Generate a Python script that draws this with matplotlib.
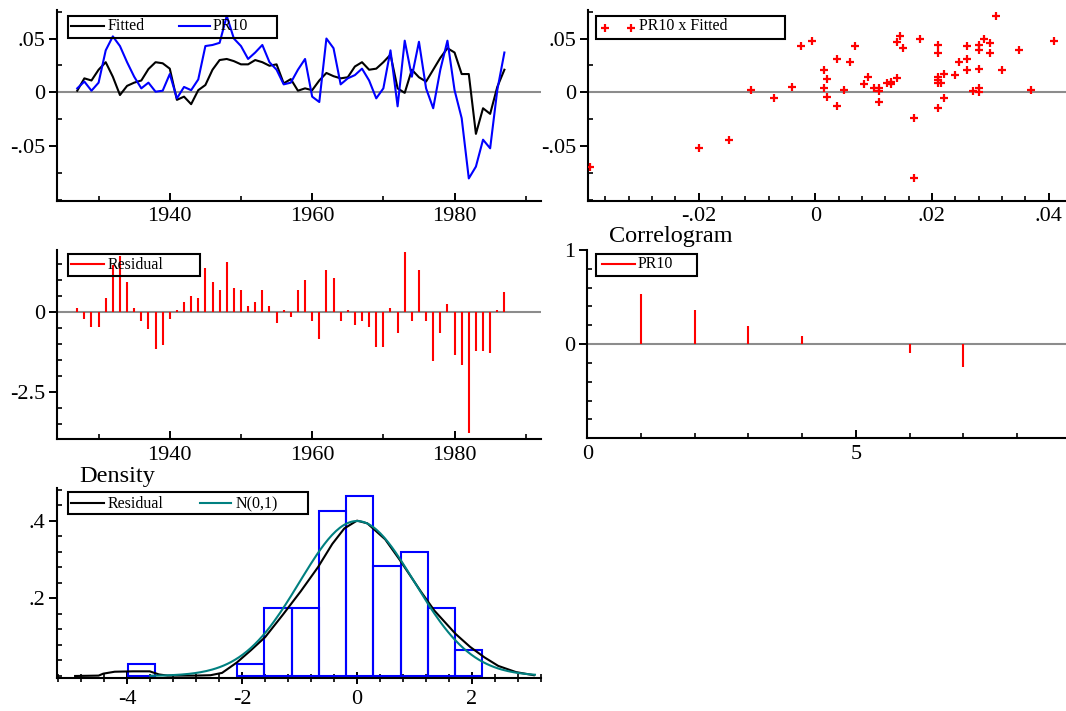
import numpy as np
import matplotlib
matplotlib.use('Agg')
import matplotlib.pyplot as plt
from matplotlib.patches import Rectangle
from matplotlib.lines import Line2D
from matplotlib.ticker import FixedLocator, FixedFormatter, MultipleLocator

# ---------------- data ----------------
years = np.arange(1927, 1988)

fitted = [0.0015, 0.013, 0.011, 0.021, 0.028, 0.0145, -0.0025, 0.006, 0.009, 0.011,
          0.0216, 0.028, 0.027, 0.022, -0.007, -0.004, -0.011, 0.002, 0.0068, 0.021,
          0.030, 0.031, 0.029, 0.026, 0.026, 0.030, 0.028, 0.0247, 0.026, 0.0083,
          0.0123, 0.0015, 0.0037, 0.002, 0.011, 0.018, 0.015, 0.013, 0.014, 0.024,
          0.028, 0.021, 0.022, 0.028, 0.035, 0.0037, -0.0005, 0.021, 0.014, 0.010,
          0.021, 0.032, 0.041, 0.037, 0.017, 0.017, -0.0386, -0.0148, -0.020, 0.005,
          0.021]

pr10 = [0.0037, 0.010, 0.0015, 0.009, 0.039, 0.052, 0.043, 0.028, 0.0145, 0.0037,
        0.009, 0.0006, 0.0015, 0.017, -0.0056, 0.005, 0.002, 0.012, 0.043, 0.044,
        0.046, 0.071, 0.050, 0.043, 0.031, 0.037, 0.044, 0.028, 0.021, 0.0074,
        0.009, 0.021, 0.031, -0.004, -0.009, 0.050, 0.041, 0.0074, 0.013, 0.016,
        0.022, 0.011, -0.0056, 0.0037, 0.039, -0.013, 0.048, 0.0145, 0.047, 0.0037,
        -0.0148, 0.021, 0.048, 0.002, -0.024, -0.080, -0.069, -0.044, -0.052, 0.002,
        0.037]

residual = [0.125, -0.24, -0.47, -0.47, 0.44, 1.46, 1.75, 0.94, 0.125, -0.28,
            -0.54, -1.17, -1.04, -0.24, 0.05, 0.31, 0.5, 0.44, 1.375, 0.94,
            0.68, 1.56, 0.75, 0.68, 0.18, 0.31, 0.68, 0.18, -0.36, 0.05,
            -0.18, 0.68, 0.99, -0.28, -0.85, 1.30, 1.06, -0.29, 0.05, -0.42,
            -0.29, -0.47, -1.11, -1.11, 0.125, -0.66, 1.875, -0.29, 1.30, -0.29,
            -1.54, -0.68, 0.24, -1.35, -1.67, -3.78, -1.22, -1.23, -1.28, 0.05,
            0.625]

acf_lags = [1, 2, 3, 4, 5, 6, 7]
acf_vals = [0.53, 0.36, 0.195, 0.09, 0.005, -0.09, -0.24]

hist_edges = [-3.99, -3.515, -3.04, -2.565, -2.09, -1.615, -1.14, -0.665, -0.19,
              0.285, 0.76, 1.235, 1.71, 2.185]
hist_dens = [0.032, 0.0, 0.0, 0.0, 0.032, 0.175, 0.175, 0.426, 0.463, 0.282, 0.318,
             0.175, 0.067]

dens_x = [-4.91, -4.5, -4.42, -4.22, -3.9, -3.61, -3.45, -3.3, -2.8, -2.55, -2.35,
          -2.09, -1.85, -1.6, -1.29, -0.98, -0.68, -0.43, -0.22, 0.0, 0.18, 0.49,
          0.74, 1.11, 1.35, 1.72, 1.97, 2.22, 2.46, 2.77, 3.08]
dens_y = [0.0, 0.001, 0.006, 0.011, 0.012, 0.012, 0.004, 0.001, 0.001, 0.002, 0.008,
          0.035, 0.066, 0.100, 0.158, 0.218, 0.280, 0.340, 0.380, 0.400, 0.393, 0.352,
          0.300, 0.218, 0.168, 0.108, 0.075, 0.048, 0.026, 0.010, 0.002]

norm_range = [-3.6, 3.1]

ts_xticks = [1940, 1960, 1980]
ts_xlabels = ['1940', '1960', '1980']
ts_yticks = [-0.05, 0, 0.05]
ts_ylabels = ['-.05', '0', '.05']
sc_xticks = [-0.02, 0, 0.02, 0.04]
sc_xlabels = ['-.02', '0', '.02', '.04']
res_yticks = [-2.5, 0]
res_ylabels = ['-2.5', '0']
acf_xticks = [0, 5]
acf_xlabels = ['0', '5']
acf_yticks = [0, 1]
acf_ylabels = ['0', '1']
hist_xticks = [-4, -2, 0, 2]
hist_xlabels = ['-4', '-2', '0', '2']
hist_yticks = [0.2, 0.4]
hist_ylabels = ['.2', '.4']

# ---------------- figure ----------------
plt.rcParams['font.family'] = ['Liberation Serif', 'DejaVu Serif']
W, H = 1066, 711
fig = plt.figure(figsize=(W / 100, H / 100), dpi=100)

BLUE = '#0000ff'
RED = '#ff0000'
TEAL = '#008080'
GREY = '#8c8c8c'
LW = 1.5


def add_ax(l, t, r, b):
    return fig.add_axes([l / W, 1 - b / H, (r - l) / W, (b - t) / H])


def style(ax):
    for s in ['top', 'right']:
        ax.spines[s].set_visible(False)
    for s in ['left', 'bottom']:
        ax.spines[s].set_linewidth(1.5)
        ax.spines[s].set_color('black')
    ax.tick_params(axis='y', which='major', direction='out', length=6, width=1.4,
                   pad=2.5, labelsize=16)
    ax.tick_params(axis='y', which='minor', direction='in', length=3.5, width=1.2)
    ax.tick_params(axis='x', which='major', direction='in', length=5.5, width=1.4,
                   pad=5, labelsize=16)
    ax.tick_params(axis='x', which='minor', direction='in', length=3.5, width=1.2)


def set_ticks(ax, axis, ticks, labels, minor):
    a = ax.xaxis if axis == 'x' else ax.yaxis
    a.set_major_locator(FixedLocator(ticks))
    a.set_major_formatter(FixedFormatter(labels))
    a.set_minor_locator(MultipleLocator(minor))


def fx(x):
    return x / W


def fy(y):
    return 1 - y / H


def legend(box, items, base_y, line_y):
    x0, y0, x1, y1 = box
    fig.add_artist(Rectangle((fx(x0), fy(y1)), (x1 - x0) / W, (y1 - y0) / H,
                             transform=fig.transFigure, fill=False,
                             edgecolor='black', lw=1.5, zorder=5))
    for kind, a, b, color, tx, label in items:
        if kind == 'line':
            fig.add_artist(Line2D([fx(a), fx(b)], [fy(line_y), fy(line_y)],
                                  transform=fig.transFigure, color=color, lw=LW,
                                  zorder=5))
        else:
            fig.add_artist(Line2D([fx(a), fx(b)], [fy(line_y), fy(line_y)],
                                  transform=fig.transFigure, color=color,
                                  linestyle='none', marker='+', ms=6, mew=1.6,
                                  zorder=5))
        fig.text(fx(tx), fy(base_y), label, fontsize=11.5, va='baseline',
                 ha='left', zorder=5)


# ---- top-left: time series ----
ax1 = add_ax(57.3, 10, 540.7, 200.5)
style(ax1)
ax1.axhline(0, color=GREY, lw=LW, zorder=1)
ax1.plot(years, fitted, color='black', lw=LW, zorder=3)
ax1.plot(years, pr10, color=BLUE, lw=LW, zorder=3)
ax1.set_xlim(1924.2, 1992.1)
ax1.set_ylim(-0.1005, 0.0765)
set_ticks(ax1, 'x', ts_xticks, ts_xlabels, 10)
set_ticks(ax1, 'y', ts_yticks, ts_ylabels, 0.025)
legend((68, 16, 277, 38),
       [('line', 71, 104, 'black', 108, 'Fitted'),
        ('line', 179, 210, BLUE, 213, 'PR10')], 30.5, 25.5)

# ---- top-right: scatter ----
ax2 = add_ax(588.3, 10, 1066, 200.5)
style(ax2)
ax2.axhline(0, color=GREY, lw=LW, zorder=1)
ax2.plot(fitted, pr10, linestyle='none', marker='+', ms=6, mew=1.6, color=RED,
         zorder=3)
ax2.set_xlim(-0.0389, 0.0430)
ax2.set_ylim(-0.1005, 0.0765)
set_ticks(ax2, 'x', sc_xticks, sc_xlabels, 0.004)
set_ticks(ax2, 'y', ts_yticks, ts_ylabels, 0.025)
legend((596, 16, 785, 39),
       [('marker', 604.5, 631, RED, 639, 'PR10 x Fitted')], 30.5, 27.5)

# ---- mid-left: residuals ----
ax3 = add_ax(57.3, 250, 540.7, 439)
style(ax3)
ax3.axhline(0, color=GREY, lw=LW, zorder=1)
ax3.vlines(years, 0, residual, color=RED, lw=LW, zorder=3)
ax3.set_xlim(1924.2, 1992.1)
ax3.set_ylim(-3.98, 1.93)
set_ticks(ax3, 'x', ts_xticks, ts_xlabels, 10)
set_ticks(ax3, 'y', res_yticks, res_ylabels, 0.5)
legend((68, 254, 200, 276),
       [('line', 71, 104, RED, 108, 'Residual')], 269, 264)

# ---- mid-right: correlogram ----
ax4 = add_ax(587.3, 250, 1066, 438.3)
style(ax4)
ax4.axhline(0, color=GREY, lw=LW, zorder=1)
ax4.vlines(acf_lags, 0, acf_vals, color=RED, lw=LW, zorder=3)
ax4.set_xlim(0, 8.91)
ax4.set_ylim(-1, 1)
set_ticks(ax4, 'x', acf_xticks, acf_xlabels, 1)
set_ticks(ax4, 'y', acf_yticks, acf_ylabels, 0.2)
legend((596, 254, 697, 276.5),
       [('line', 602, 634.5, RED, 638, 'PR10')], 268.5, 264)
fig.text(fx(609), fy(242), 'Correlogram', fontsize=17.5, va='baseline', ha='left')

# ---- bottom-left: density ----
ax5 = add_ax(57.3, 488, 540.7, 677.7)
style(ax5)
ax5.tick_params(axis='x', which='major', direction='inout', length=8)
ax5.tick_params(axis='x', which='minor', direction='inout', length=6)
edges = np.array(hist_edges)
dens = np.array(hist_dens)
keep = dens > 0
ax5.bar(edges[:-1][keep], dens[keep], width=np.diff(edges)[keep], align='edge',
        fill=False, edgecolor=BLUE, lw=LW, zorder=2)
ax5.plot(dens_x, dens_y, color='black', lw=LW, zorder=3)
xn = np.linspace(norm_range[0], norm_range[1], 200)
ax5.plot(xn, np.exp(-0.5 * xn ** 2) / np.sqrt(2 * np.pi), color=TEAL, lw=LW,
         zorder=4)
ax5.set_xlim(-5.22, 3.2)
ax5.set_ylim(-0.0044, 0.484)
set_ticks(ax5, 'x', hist_xticks, hist_xlabels, 0.4)
set_ticks(ax5, 'y', hist_yticks, hist_ylabels, 0.04)
legend((68, 492, 308, 514),
       [('line', 71, 104, 'black', 108, 'Residual'),
        ('line', 200, 231, TEAL, 236, 'N(0,1)')], 508, 503)
fig.text(fx(79), fy(482), 'Density', fontsize=17.5, va='baseline', ha='left')

fig.savefig('out.png', dpi=100)
